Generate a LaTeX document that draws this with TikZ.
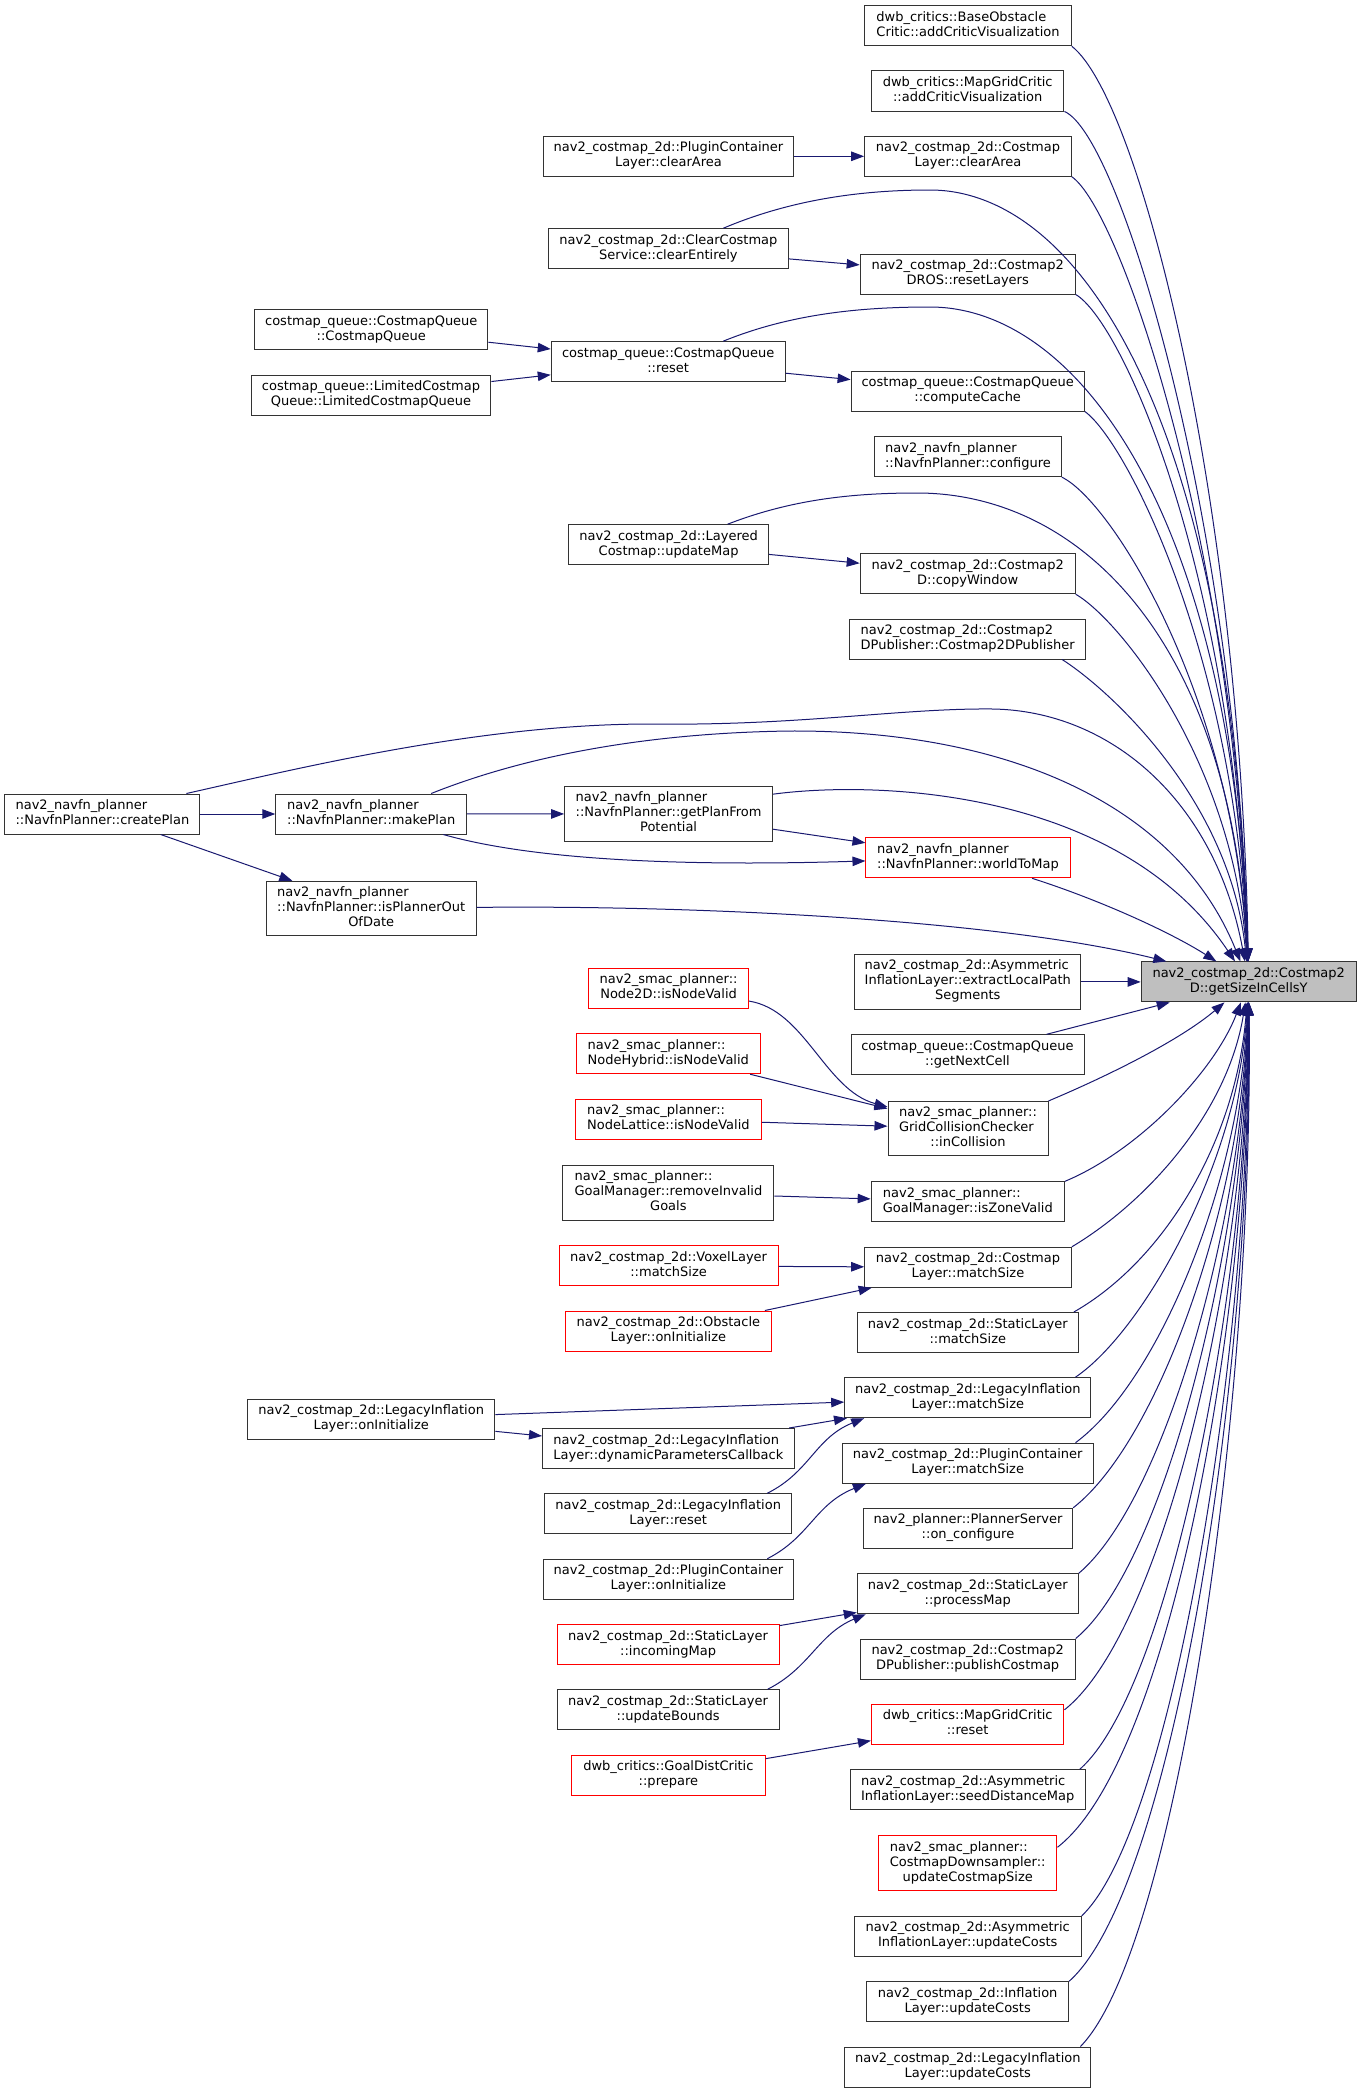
\documentclass[tikz,border=0pt]{standalone}
\usepackage{fontspec}
\setmainfont{DejaVu Sans}
\usetikzlibrary{arrows.meta}
\definecolor{navyline}{HTML}{191970}
\definecolor{focusgrey}{HTML}{BFBFBF}
\newcommand{\fnlabel}[2]{\begin{tabular}{@{}l@{}}#1\\\multicolumn{1}{@{}c@{}}{#2}\end{tabular}}

\begin{document}
\begin{tikzpicture}[->,>={Triangle[length=13pt,width=9.5pt]},x=1pt,y=-1pt,
		fn/.style={rectangle,draw=black!80,line width=1pt,fill=white,inner sep=0pt,
			minimum height=40pt,font=\fontsize{13}{15}\selectfont},
		tall/.style={minimum height=54.5pt},
		trunc/.style={draw=red},
		focus/.style={fill=focusgrey},
		call/.style={draw=navyline,line width=1pt},
		every edge/.style={call}]

		\path[use as bounding box,-] (0,0) rectangle (1361,2093);

		\node[fn,focus,minimum width=215] (Y) at (1248.7,981.9) {\fnlabel{nav2\_costmap\_2d::Costmap2}{D::getSizeInCellsY}};

		\node[fn,minimum width=206.7] (bo) at (968,25.8) {\fnlabel{dwb\_critics::BaseObstacle}{Critic::addCriticVisualization}};
		\node[fn,minimum width=192.5] (mgac) at (967.7,91) {\fnlabel{dwb\_critics::MapGridCritic}{::addCriticVisualization}};
		\node[fn,minimum width=206.7] (clca) at (968,156.3) {\fnlabel{nav2\_costmap\_2d::Costmap}{Layer::clearArea}};
		\node[fn,minimum width=215] (rl) at (967.7,274) {\fnlabel{nav2\_costmap\_2d::Costmap2}{DROS::resetLayers}};
		\node[fn,minimum width=233.2] (cc) at (967.7,391) {\fnlabel{costmap\_queue::CostmapQueue}{::computeCache}};
		\node[fn,minimum width=186.7] (cfg) at (968,456.7) {\fnlabel{nav2\_navfn\_planner}{::NavfnPlanner::configure}};
		\node[fn,minimum width=215] (cw) at (967.7,573.7) {\fnlabel{nav2\_costmap\_2d::Costmap2}{D::copyWindow}};
		\node[fn,minimum width=235.8] (c2dp) at (967.7,639) {\fnlabel{nav2\_costmap\_2d::Costmap2}{DPublisher::Costmap2DPublisher}};
		\node[fn,trunc,minimum width=204.1] (wtm) at (968,857.8) {\fnlabel{nav2\_navfn\_planner}{::NavfnPlanner::worldToMap}};
		\node[fn,tall,minimum width=226.3] (ext) at (967.8,981.9) {\fnlabel{nav2\_costmap\_2d::Asymmetric\\InflationLayer::extractLocalPath}{Segments}};
		\node[fn,minimum width=233] (gnc) at (967.5,1054.8) {\fnlabel{costmap\_queue::CostmapQueue}{::getNextCell}};
		\node[fn,tall,minimum width=160] (ic) at (968,1128.7) {\fnlabel{nav2\_smac\_planner::\\GridCollisionChecker}{::inCollision}};
		\node[fn,minimum width=193.3] (izv) at (967.8,1201.8) {\fnlabel{nav2\_smac\_planner::}{GoalManager::isZoneValid}};
		\node[fn,minimum width=206.7] (clms) at (968,1267.3) {\fnlabel{nav2\_costmap\_2d::Costmap}{Layer::matchSize}};
		\node[fn,minimum width=221.1] (slms) at (967.8,1332.5) {\fnlabel{nav2\_costmap\_2d::StaticLayer}{::matchSize}};
		\node[fn,minimum width=246.3] (lims) at (967.8,1397.7) {\fnlabel{nav2\_costmap\_2d::LegacyInflation}{Layer::matchSize}};
		\node[fn,minimum width=250.6] (pcms) at (967.7,1463.2) {\fnlabel{nav2\_costmap\_2d::PluginContainer}{Layer::matchSize}};
		\node[fn,minimum width=209.3] (onc) at (968,1528.3) {\fnlabel{nav2\_planner::PlannerServer}{::on\_configure}};
		\node[fn,minimum width=221.1] (pm) at (967.8,1593.7) {\fnlabel{nav2\_costmap\_2d::StaticLayer}{::processMap}};
		\node[fn,minimum width=215] (pc) at (967.7,1659) {\fnlabel{nav2\_costmap\_2d::Costmap2}{DPublisher::publishCostmap}};
		\node[fn,trunc,minimum width=192.5] (mgr) at (967.7,1724.3) {\fnlabel{dwb\_critics::MapGridCritic}{::reset}};
		\node[fn,minimum width=235] (sdm) at (967.7,1789.8) {\fnlabel{nav2\_costmap\_2d::Asymmetric}{InflationLayer::seedDistanceMap}};
		\node[fn,trunc,tall,minimum width=178.5] (cds) at (967.7,1863) {\fnlabel{nav2\_smac\_planner::\\CostmapDownsampler::}{updateCostmapSize}};
		\node[fn,minimum width=227.1] (aiuc) at (967.7,1936.3) {\fnlabel{nav2\_costmap\_2d::Asymmetric}{InflationLayer::updateCosts}};
		\node[fn,minimum width=201.9] (iuc) at (967.7,2001.7) {\fnlabel{nav2\_costmap\_2d::Inflation}{Layer::updateCosts}};
		\node[fn,minimum width=246.3] (liuc) at (967.8,2067) {\fnlabel{nav2\_costmap\_2d::LegacyInflation}{Layer::updateCosts}};

		\node[fn,minimum width=250.8] (pcca) at (668.4,156.3) {\fnlabel{nav2\_costmap\_2d::PluginContainer}{Layer::clearArea}};
		\node[fn,minimum width=239.5] (ccs) at (668.4,248.7) {\fnlabel{nav2\_costmap\_2d::ClearCostmap}{Service::clearEntirely}};
		\node[fn,minimum width=233.9] (reset) at (668.2,361.7) {\fnlabel{costmap\_queue::CostmapQueue}{::reset}};
		\node[fn,minimum width=200.1] (lc) at (668.6,544.7) {\fnlabel{nav2\_costmap\_2d::Layered}{Costmap::updateMap}};
		\node[fn,tall,minimum width=207.9] (gpf) at (668.6,813.9) {\fnlabel{nav2\_navfn\_planner\\::NavfnPlanner::getPlanFrom}{Potential}};
		\node[fn,trunc,minimum width=160.1] (n2d) at (668.6,988.3) {\fnlabel{nav2\_smac\_planner::}{Node2D::isNodeValid}};
		\node[fn,trunc,minimum width=184] (nh) at (668.3,1053.7) {\fnlabel{nav2\_smac\_planner::}{NodeHybrid::isNodeValid}};
		\node[fn,trunc,minimum width=185.7] (nl) at (668.4,1119.3) {\fnlabel{nav2\_smac\_planner::}{NodeLattice::isNodeValid}};
		\node[fn,tall,minimum width=210.9] (ri) at (668.4,1192.8) {\fnlabel{nav2\_smac\_planner::\\GoalManager::removeInvalid}{Goals}};
		\node[fn,trunc,minimum width=219.2] (vl) at (668.6,1265.9) {\fnlabel{nav2\_costmap\_2d::VoxelLayer}{::matchSize}};
		\node[fn,trunc,minimum width=205.7] (ol) at (668.4,1331) {\fnlabel{nav2\_costmap\_2d::Obstacle}{Layer::onInitialize}};
		\node[fn,minimum width=251.7] (dpc) at (668.4,1448.5) {\fnlabel{nav2\_costmap\_2d::LegacyInflation}{Layer::dynamicParametersCallback}};
		\node[fn,minimum width=246.9] (lir) at (668.2,1513.8) {\fnlabel{nav2\_costmap\_2d::LegacyInflation}{Layer::reset}};
		\node[fn,minimum width=250.8] (pcoi) at (668.4,1579.2) {\fnlabel{nav2\_costmap\_2d::PluginContainer}{Layer::onInitialize}};
		\node[fn,trunc,minimum width=221.8] (im) at (668.1,1644.5) {\fnlabel{nav2\_costmap\_2d::StaticLayer}{::incomingMap}};
		\node[fn,minimum width=221.8] (ub) at (668.1,1709.8) {\fnlabel{nav2\_costmap\_2d::StaticLayer}{::updateBounds}};
		\node[fn,trunc,minimum width=193.5] (gd) at (668.4,1775.2) {\fnlabel{dwb\_critics::GoalDistCritic}{::prepare}};

		\node[fn,minimum width=233.3] (cqcq) at (371.3,329.5) {\fnlabel{costmap\_queue::CostmapQueue}{::CostmapQueue}};
		\node[fn,minimum width=239.8] (lcq) at (371,395) {\fnlabel{costmap\_queue::LimitedCostmap}{Queue::LimitedCostmapQueue}};
		\node[fn,minimum width=190.8] (mp) at (371.2,814) {\fnlabel{nav2\_navfn\_planner}{::NavfnPlanner::makePlan}};
		\node[fn,tall,minimum width=209.8] (ipo) at (371.2,908.5) {\fnlabel{nav2\_navfn\_planner\\::NavfnPlanner::isPlannerOut}{OfDate}};
		\node[fn,minimum width=247.2] (lioi) at (371.2,1419) {\fnlabel{nav2\_costmap\_2d::LegacyInflation}{Layer::onInitialize}};

		\node[fn,minimum width=195.1] (cp) at (102.4,814) {\fnlabel{nav2\_navfn\_planner}{::NavfnPlanner::createPlan}};

		\path
		(pcca) edge (clca)
		(ccs) edge (rl)
		(cqcq) edge (reset)
		(lcq) edge (reset)
		(reset) edge (cc)
		(lc) edge (cw)
		(cp) edge (mp)
		edge (ipo)
		(mp) edge (gpf)
		(gpf) edge (wtm)
		(ext) edge (Y)
		(gnc) edge (Y)
		(nh) edge (ic)
		(nl) edge (ic)
		(ri) edge (izv)
		(vl) edge (clms)
		(ol) edge (clms)
		(lioi) edge (lims)
		edge (dpc)
		(dpc) edge (lims)
		(im) edge (pm)
		(gd) edge (mgr);

		\draw[call] (bo.south east) .. controls (1140,100) and (1240,500) .. (Y);
		\draw[call] (mgac.south east) .. controls (1120,135) and (1236,520) .. (Y);
		\draw[call] (clca.south east) .. controls (1120,210) and (1234,540) .. (Y);
		\draw[call] ([xshift=55pt]ccs.north) .. controls (790,200) and (860,190) .. (930,190) .. controls (1080,190) and (1232,420) .. (Y);
		\draw[call] (rl.south east) .. controls (1120,320) and (1232,560) .. (Y);
		\draw[call] ([xshift=55pt]reset.north) .. controls (790,314) and (860,307) .. (930,307) .. controls (1080,307) and (1232,520) .. (Y);
		\draw[call] (cc.south east) .. controls (1125,440) and (1234,650) .. (Y);
		\draw[call] (cfg.south east) .. controls (1110,500) and (1232,690) .. (Y);
		\draw[call] ([xshift=59pt]lc.north) .. controls (790,500) and (850,493) .. (917,493) .. controls (1080,493) and (1230,640) .. (Y);
		\draw[call] (cw.south east) .. controls (1120,620) and (1232,760) .. (Y);
		\draw[call] ([xshift=-24pt]c2dp.south east) .. controls (1110,690) and (1230,800) .. (Y);
		\draw[call] ([xshift=84pt]cp.north) .. controls (300,768) and (480,724) .. (650,724) .. controls (800,726) and (900,708) .. (993,709) .. controls (1110,711) and (1215,800) .. (Y);
		\draw[call] ([xshift=60pt]mp.north) .. controls (520,758) and (640,733) .. (790,731) .. controls (1000,730) and (1175,800) .. (Y);
		\draw[call] ([yshift=-8pt]gpf.north east) .. controls (880,780) and (1120,790) .. (Y);
		\draw[call] (mp) .. controls (540,862) and (700,866) .. (wtm);
		\draw[call] (wtm) .. controls (1100,900) and (1170,932) .. (Y);
		\draw[call] (ipo) .. controls (700,905) and (1000,920) .. (Y);
		\draw[call] (n2d) .. controls (805,1010) and (825,1090) .. (ic);
		\draw[call] (ic.north east) .. controls (1110,1075) and (1180,1040) .. (Y);
		\draw[call] (izv.north east) .. controls (1140,1150) and (1215,1070) .. (Y);
		\draw[call] (clms.north east) .. controls (1150,1200) and (1228,1110) .. (Y);
		\draw[call] ([xshift=-5pt]slms.north east) .. controls (1165,1260) and (1236,1140) .. (Y);
		\draw[call] ([xshift=-16pt]lims.north east) .. controls (1145,1330) and (1238,1160) .. (Y);
		\draw[call] ([xshift=-18pt]pcms.north east) .. controls (1160,1380) and (1240,1180) .. (Y);
		\draw[call] (onc.north east) .. controls (1160,1440) and (1242,1200) .. (Y);
		\draw[call] (pm.north east) .. controls (1165,1500) and (1243,1220) .. (Y);
		\draw[call] (pc.north east) .. controls (1165,1565) and (1244,1240) .. (Y);
		\draw[call] ([yshift=-6pt]mgr.north east) .. controls (1165,1630) and (1246,1265) .. (Y);
		\draw[call] ([xshift=-6pt]sdm.north east) .. controls (1170,1690) and (1247,1290) .. (Y);
		\draw[call] ([yshift=-12pt]cds.north east) .. controls (1170,1760) and (1248,1320) .. (Y);
		\draw[call] (aiuc.north east) .. controls (1172,1830) and (1250,1350) .. (Y);
		\draw[call] (iuc.north east) .. controls (1172,1890) and (1252,1380) .. (Y);
		\draw[call] ([xshift=-11pt]liuc.north east) .. controls (1175,1950) and (1254,1410) .. (Y);
		\draw[call] ([xshift=-25pt]lir.north east) .. controls (810,1472) and (815,1438) .. ([xshift=20pt]lims.south west);
		\draw[call] ([xshift=-27pt]pcoi.north east) .. controls (810,1537) and (815,1504) .. ([xshift=24pt]pcms.south west);
		\draw[call] ([xshift=-12pt]ub.north east) .. controls (810,1668) and (818,1634) .. ([xshift=9pt]pm.south west);
	\end{tikzpicture}
\end{document}
